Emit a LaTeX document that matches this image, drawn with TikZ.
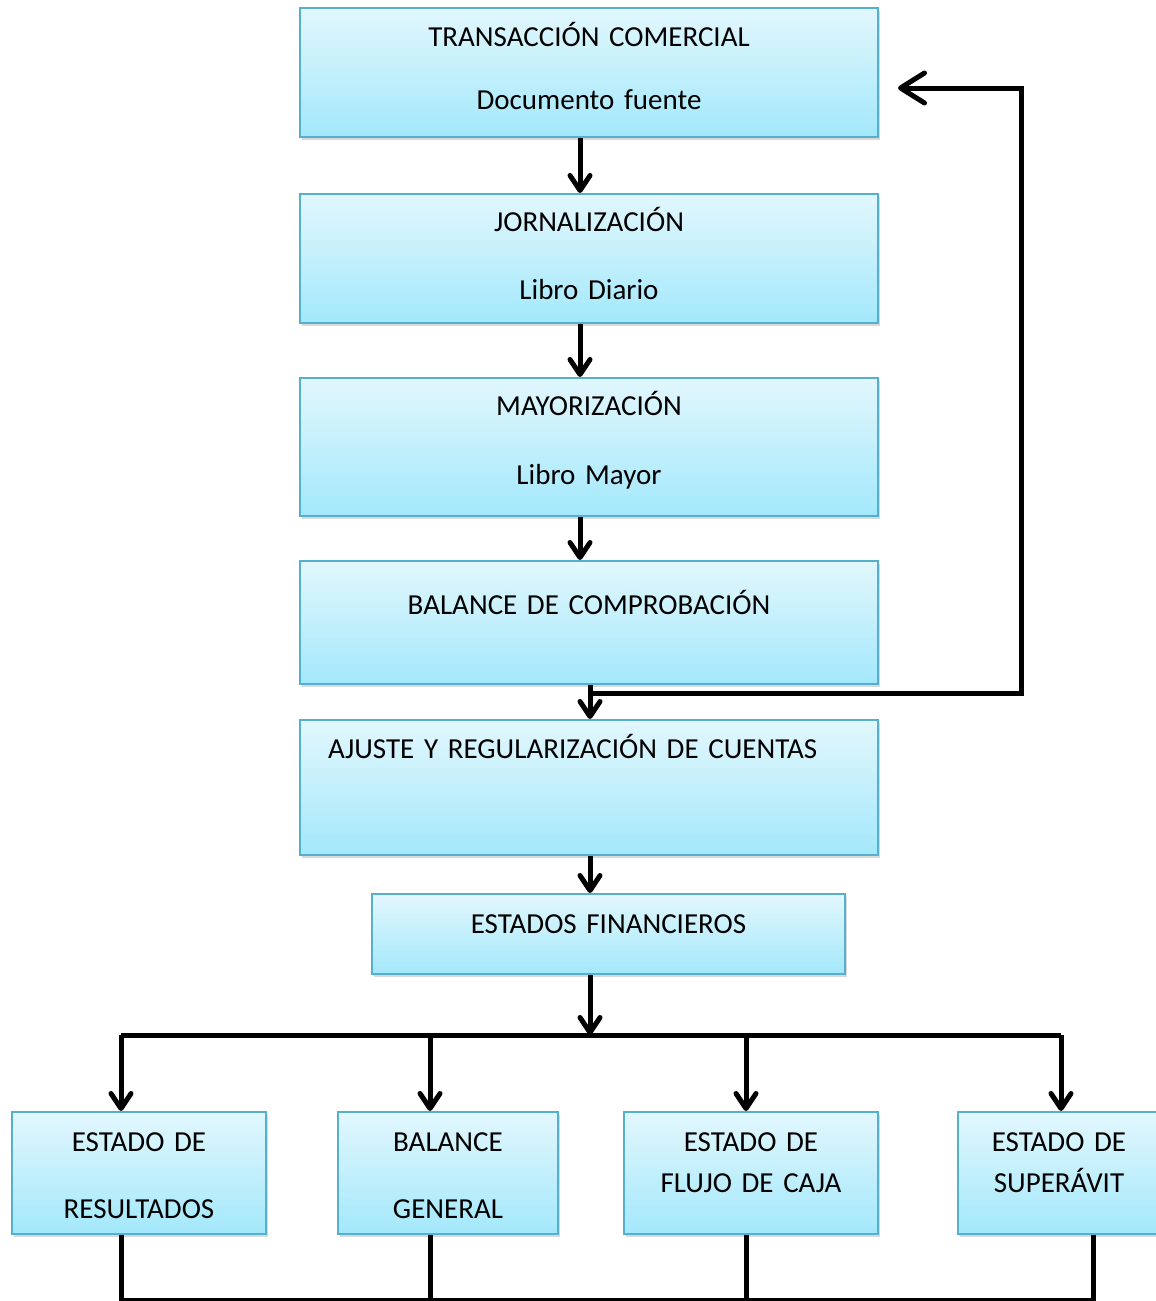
\documentclass[tikz,border=0pt]{standalone}
\usepackage{fontspec}
\setmainfont{Carlito}
\usetikzlibrary{arrows.meta}
\usetikzlibrary{shadows}

\definecolor{boxtop}{RGB}{226,247,253}
\definecolor{boxbot}{RGB}{163,232,251}
\definecolor{boxline}{RGB}{84,176,204}

\tikzset{
  stage/.style={rectangle, draw=boxline, line width=2pt, top color=boxtop, bottom color=boxbot,
    inner sep=0pt, align=center, anchor=north, font=\fontsize{29}{35}\selectfont,
    drop shadow={shadow xshift=2pt, shadow yshift=-3pt, opacity=0.3}},
  link/.style={line width=5pt},
  flow/.style={link, -{Straight Barb[round, length=15pt, width=20pt]}},
  back/.style={link, -{Straight Barb[round, length=24pt, width=30pt]}},
}

\begin{document}
\begin{tikzpicture}[x=1pt, y=-1pt]
                \useasboundingbox (0,0) rectangle (1156,1301);

                \node[stage, text width=578pt, text height=38pt, text depth=91pt] (trans) at (589,7) {TRANSACCIÓN COMERCIAL\\[28pt]Documento fuente};
                \node[stage, text width=578pt, text height=37pt, text depth=92pt] (jornal) at (589,193) {JORNALIZACIÓN\\[33pt]Libro Diario};
                \node[stage, text width=578pt, text height=37pt, text depth=101pt] (mayor) at (589,377) {MAYORIZACIÓN\\[34pt]Libro Mayor};
                \node[stage, text width=578pt, text height=53pt, text depth=70pt] (compro) at (589,560) {BALANCE DE COMPROBACIÓN};
                \node[stage, text width=522pt, inner xsep=28pt, align=left, text height=38pt, text depth=97pt] (ajuste) at (589,719) {AJUSTE Y REGULARIZACIÓN DE CUENTAS};
                \node[stage, text width=473pt, text height=39pt, text depth=41pt] (fin) at (608.5,893) {ESTADOS FINANCIEROS};
                \node[stage, text width=254pt, text height=39pt, text depth=83pt] (result) at (139,1111) {ESTADO DE\\[32pt]RESULTADOS};
                \node[stage, text width=220pt, text height=39pt, text depth=83pt] (general) at (448,1111) {BALANCE\\[32pt]GENERAL};
                \node[stage, text width=254pt, text height=39pt, text depth=83pt] (flujo) at (751,1111) {ESTADO DE\\[6pt]FLUJO DE CAJA};
                \node[stage, text width=202pt, text height=39pt, text depth=83pt] (super) at (1059,1111) {ESTADO DE\\[6pt]SUPERÁVIT};

                \coordinate (split) at (590,693);
                \coordinate (turn) at (1021,88);
                \coordinate (entry) at (898,88);
                \coordinate (spine) at (590,1035);
                \coordinate (t1) at (121,1035);
                \coordinate (t2) at (430,1035);
                \coordinate (t3) at (746,1035);
                \coordinate (t4) at (1061,1035);
                \coordinate (u1) at (121,1300);
                \coordinate (u2) at (430,1300);
                \coordinate (u3) at (746,1300);
                \coordinate (u4) at (1093,1300);

                \draw[flow] ([xshift=-9pt]trans.south) -- ([xshift=-9pt]jornal.north);
                \draw[flow] ([xshift=-9pt]jornal.south) -- ([xshift=-9pt]mayor.north);
                \draw[flow] ([xshift=-9pt]mayor.south) -- ([xshift=-9pt]compro.north);
                \draw[flow] (compro.south -| split) -- (ajuste.north -| split);
                \draw[back] (split) -| (turn) -- (entry);
                \draw[flow] (ajuste.south -| spine) -- (fin.north -| spine);
                \draw[flow] (fin.south -| spine) -- (spine);

                \draw[link] (t1) -- (t4);
                \draw[flow] (t1) -- (t1 |- result.north);
                \draw[flow] (t2) -- (t2 |- general.north);
                \draw[flow] (t3) -- (t3 |- flujo.north);
                \draw[flow] (t4) -- (t4 |- super.north);

                \draw[link] (result.south -| u1) -- (u1) -- (u4) -- (u4 |- super.south);
                \draw[link] (general.south -| u2) -- (u2);
                \draw[link] (flujo.south -| u3) -- (u3);
            \end{tikzpicture}
\end{document}
